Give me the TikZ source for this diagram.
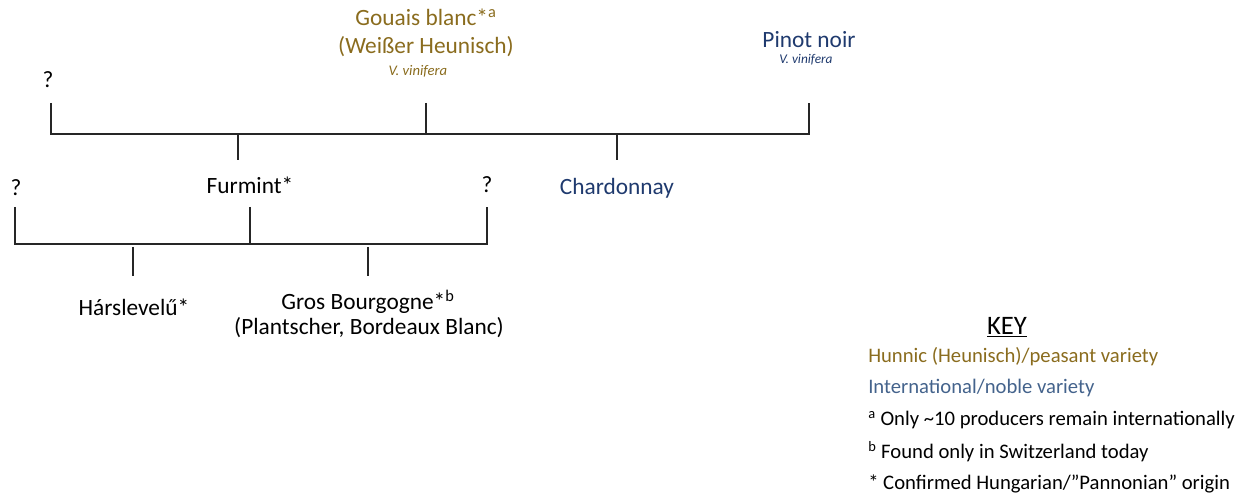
\documentclass[tikz,border=0pt]{standalone}
\usepackage{fontspec}
\setmainfont{Carlito}
\definecolor{hunnic}{HTML}{8A6C1E}
\definecolor{noble}{HTML}{1F3A6E}
\definecolor{keyblue}{HTML}{44638C}
\begin{document}
\begin{tikzpicture}[x=0.75pt,y=-0.75pt,
  lbl/.style={inner sep=0pt,anchor=center,font=\fontsize{17.5}{20.5}\selectfont},
  sub/.style={inner sep=0pt,anchor=center,font=\fontsize{11}{12}\selectfont\itshape},
  keyline/.style={inner sep=0pt,anchor=west,font=\fontsize{15.5}{18}\selectfont},
  tree/.style={line width=1pt,black!85}]
\useasboundingbox (0,0) rectangle (1243,499);

% parents of Furmint and Chardonnay
\node[lbl] (q1) at (48,80) {?};
\node[lbl,text=hunnic,align=center] (gouais) at (426,33) {Gouais blanc*\textsuperscript{a}\\(Weißer Heunisch)};
\node[sub,text=hunnic] (gouaisv) at (418,71) {V. vinifera};
\node[lbl,text=noble] (pinot) at (809,40) {Pinot noir};
\node[sub,text=noble,font=\fontsize{10}{11}\selectfont\itshape] (pinotv) at (806,60) {V. vinifera};

\coordinate (t1) at (51,103);
\coordinate (t2) at (426,103);
\coordinate (t3) at (809,103);
\coordinate (b1) at (51,134);
\coordinate (b2) at (426,134);
\coordinate (b3) at (809,134);
\coordinate (f1) at (238,134);
\coordinate (f2) at (238,160);
\coordinate (c1) at (617,134);
\coordinate (c2) at (617,160);
\draw[tree] (t1) -- (b1) -- (b3) -- (t3);
\draw[tree] (t2) -- (b2);
\draw[tree] (f1) -- (f2);
\draw[tree] (c1) -- (c2);

% second generation
\node[lbl] (q2) at (16,188) {?};
\node[lbl] (furmint) at (250,185) {Furmint*};
\node[lbl] (q3) at (487,185) {?};
\node[lbl,text=noble] (chard) at (617,188) {Chardonnay};

\coordinate (s1) at (15,207);
\coordinate (s2) at (250,207);
\coordinate (s3) at (487,207);
\coordinate (h1) at (15,244);
\coordinate (h2) at (250,244);
\coordinate (h3) at (487,244);
\coordinate (d1) at (133,247);
\coordinate (d2) at (133,276);
\coordinate (e1) at (368,247);
\coordinate (e2) at (368,276);
\draw[tree] (s1) -- (h1) -- (h3) -- (s3);
\draw[tree] (s2) -- (h2);
\draw[tree] (d1) -- (d2);
\draw[tree] (e1) -- (e2);

% offspring
\node[lbl] (hars) at (134,307) {Hárslevelű*};
\node[lbl] (gros) at (368,302) {Gros Bourgogne*\textsuperscript{b}};
\node[lbl] (grosalt) at (369,328) {(Plantscher, Bordeaux Blanc)};

% key
\node[lbl,font=\fontsize{20}{23}\selectfont] (key) at (1007,327) {\underline{KEY}};
\node[keyline,text=hunnic] (k1) at (868,357) {Hunnic (Heunisch)/peasant variety};
\node[keyline,text=keyblue] (k2) at (868,388) {International/noble variety};
\node[keyline] (k3) at (868,420) {\textsuperscript{a} Only \textasciitilde10 producers remain internationally};
\node[keyline] (k4) at (868,452) {\textsuperscript{b} Found only in Switzerland today};
\node[keyline] (k5) at (868,484) {* Confirmed Hungarian/”Pannonian” origin};
\end{tikzpicture}
\end{document}
